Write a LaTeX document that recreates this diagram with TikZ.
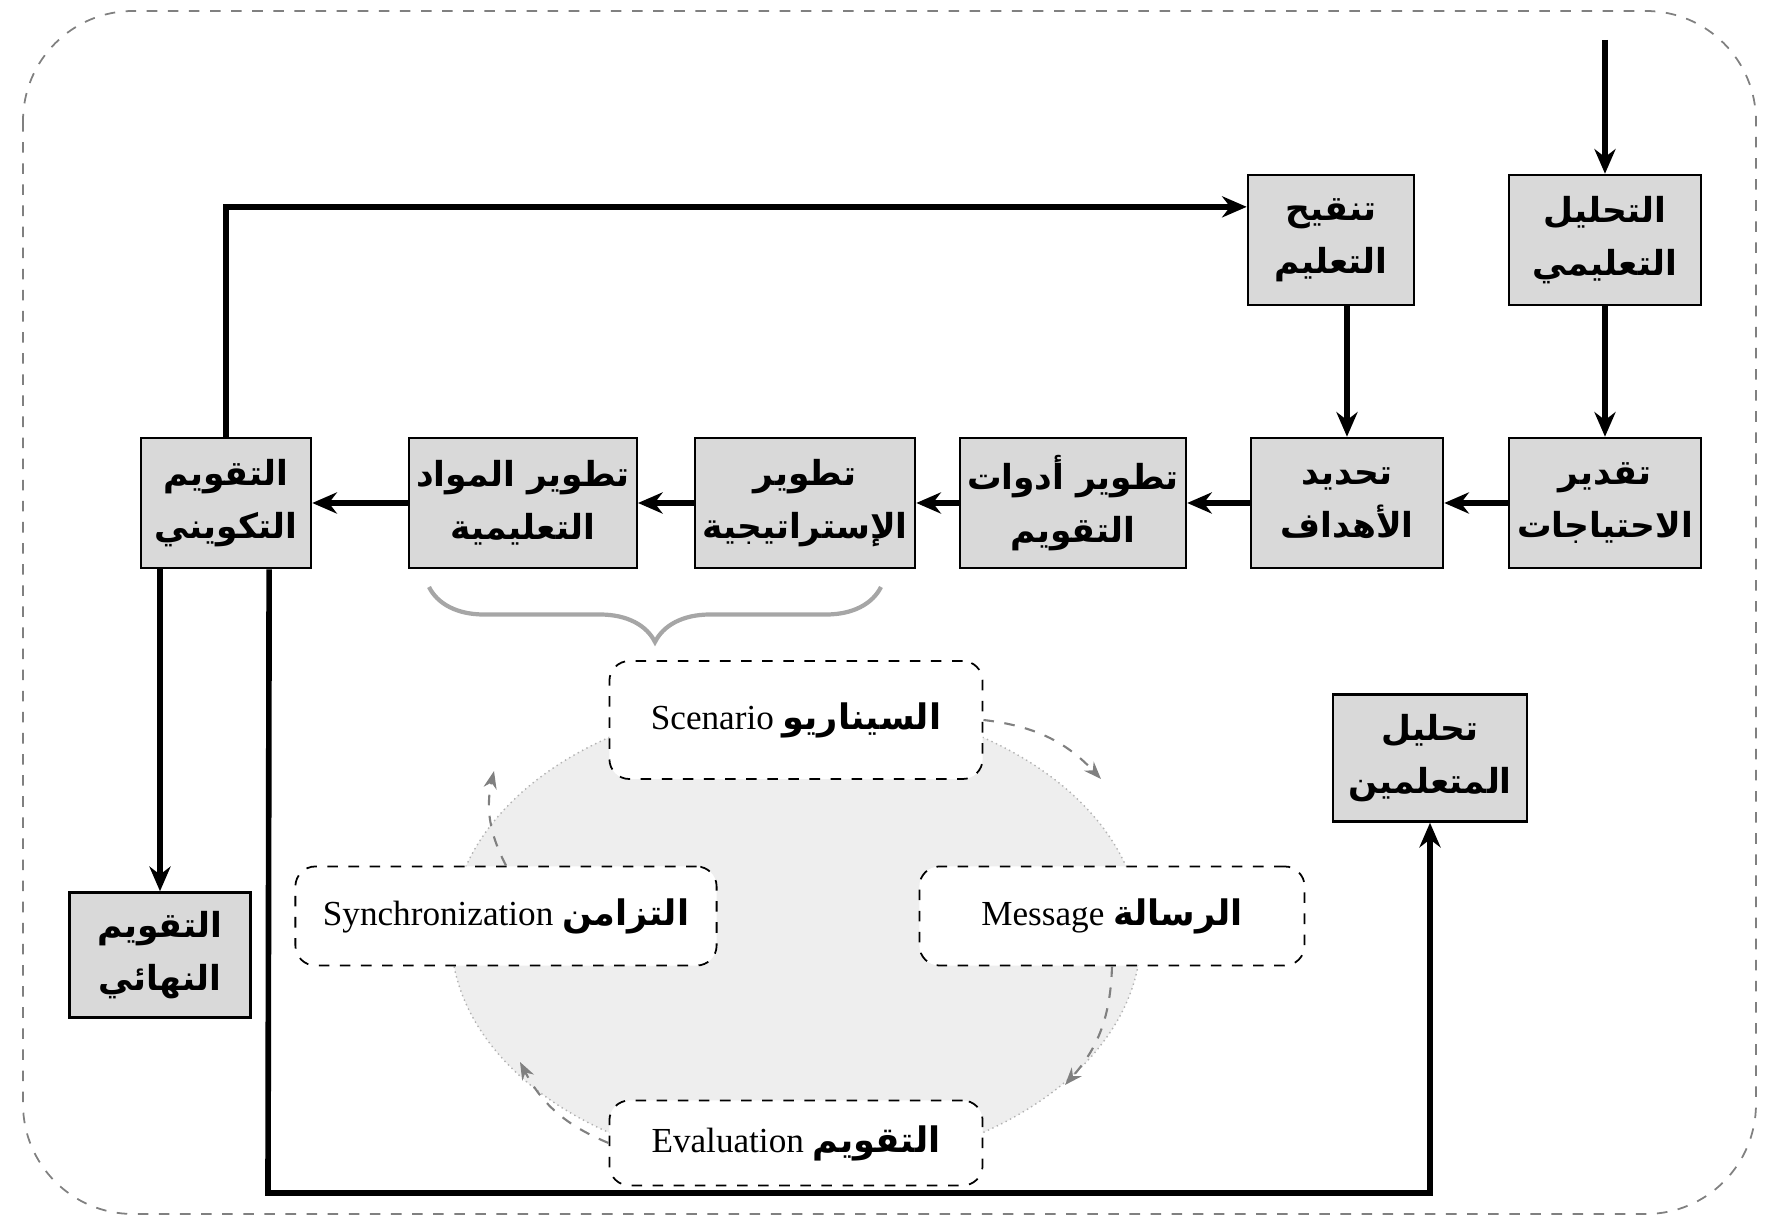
\documentclass[tikz,border=0pt]{standalone}
\usepackage{fontspec}
\setmainfont{Liberation Serif}
\newfontfamily\arabicfont[Script=Arabic]{DejaVu Sans}
\TeXXeTstate=1
\usepackage{tikz}
\usetikzlibrary{arrows.meta, positioning, calc, decorations.pathreplacing}

\newcommand{\ar}[1]{\beginR #1\endR}
\newcommand{\arb}[1]{{\arabicfont\bfseries\beginR #1\endR}}

\tikzset{
  blk/.style={draw, line width=0.7pt, fill=black!15, align=center, inner sep=2pt,
    font=\arabicfont\bfseries\fontsize{9.8}{15}\selectfont},
  rbox/.style={draw, dashed, line width=0.5pt, fill=white, rounded corners=0.2cm,
    align=center, font=\fontsize{10}{13}\selectfont},
  arr/.style={line width=1.6pt, -{Stealth[length=7pt, width=6pt]}},
  cyc/.style={gray, dashed, line width=0.6pt, -{Stealth[length=5pt]}}
}

\begin{document}
\begin{tikzpicture}[x=0.01cm, y=-0.01cm]
        \useasboundingbox (0,0) rectangle (1771,1231);
        \draw[gray, dashed, line width=0.5pt, rounded corners=1.1cm] (23,11) rectangle (1756,1214);

        % cycle background
        \fill[gray!13] (796,935) ellipse (345 and 235);
        \draw[gray!60, densely dotted] (796,935) ellipse (345 and 235);

        % top row
        \node[blk, minimum width=1.92cm, minimum height=1.3cm] (anal) at (1605,240) {\ar{التحليل}\\\ar{التعليمي}};
        \node[blk, minimum width=1.66cm, minimum height=1.3cm] (revise) at (1331,240) {\ar{تنقيح}\\\ar{التعليم}};

        % main row
        \node[blk, minimum width=1.92cm, minimum height=1.3cm] (needs) at (1605,503) {\ar{تقدير}\\\ar{الاحتياجات}};
        \node[blk, minimum width=1.92cm, minimum height=1.3cm] (goals) at (1347,503) {\ar{تحديد}\\\ar{الأهداف}};
        \node[blk, minimum width=2.14cm, minimum height=1.3cm] (tools) at (1073,503) {\ar{تطوير أدوات}\\\ar{التقويم}};
        \node[blk, minimum width=2.2cm, minimum height=1.3cm] (strat) at (805,503) {\ar{تطوير}\\\ar{الإستراتيجية}};
        \node[blk, minimum width=2.07cm, minimum height=1.3cm] (mater) at (523,503) {\ar{تطوير المواد}\\\ar{التعليمية}};
        \node[blk, minimum width=1.7cm, minimum height=1.3cm] (form) at (226,503) {\ar{التقويم}\\\ar{التكويني}};

        \node[blk, minimum width=1.81cm, minimum height=1.25cm] (summ) at (160,955) {\ar{التقويم}\\\ar{النهائي}};
        \node[blk, minimum width=1.94cm, minimum height=1.27cm] (learn) at (1430,758) {\ar{تحليل}\\\ar{المتعلمين}};

        % scenario cycle
        \node[rbox, minimum width=3.73cm, minimum height=1.18cm] (scen) at (796,720) {Scenario \arb{السيناريو}};
        \node[rbox, minimum width=4.21cm, minimum height=0.99cm] (sync) at (506,916) {Synchronization \arb{التزامن}};
        \node[rbox, minimum width=3.85cm, minimum height=0.99cm] (msg) at (1112,916) {Message \arb{الرسالة}};
        \node[rbox, minimum width=3.73cm, minimum height=0.85cm] (evalbox) at (796,1143) {Evaluation \arb{التقويم}};

        \coordinate (c1) at (1101,779);
        \coordinate (c2) at (1065,1085);
        \coordinate (c3) at (520,1062);
        \coordinate (c4) at (494,771);
        \draw[cyc] (scen.east) to[bend left=20] (c1);
        \draw[cyc] (msg.south) to[bend left=20] (c2);
        \draw[cyc] (evalbox.west) to[bend left=20] (c3);
        \draw[cyc] (sync.north) to[bend left=20] (c4);

        % brace over the two development boxes
        \draw[gray!70, line width=1.2pt, decorate,
              decoration={brace, mirror, amplitude=0.55cm}] (429,587) -- (881,587);

        % connectors
        \coordinate (entry) at (1605,40);
        \draw[arr] (entry) -- (anal);
        \draw[arr] (anal) -- (needs);
        \draw[arr] (goals.north |- revise.south) -- (goals.north);
        \draw[arr] (needs) -- (goals);
        \draw[arr] (goals) -- (tools);
        \draw[arr] (tools) -- (strat);
        \draw[arr] (strat) -- (mater);
        \draw[arr] (mater) -- (form);
        \draw[arr] (form.north) |- ($(revise.north west)!0.25!(revise.south west)$);
        \draw[arr] (summ.north |- form.south) -- (summ.north);
        \coordinate (fstart) at ($(form.south west)!0.75!(form.south east)$);
        \coordinate (lowturn) at (268,1193);
        \draw[arr] (fstart) -- (lowturn) -| (learn.south);
\end{tikzpicture}
\end{document}
